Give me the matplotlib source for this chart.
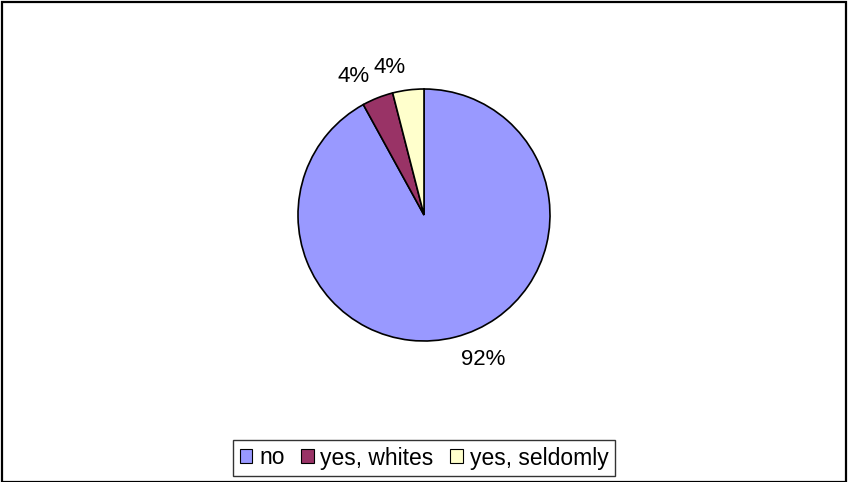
from matplotlib import pyplot as plt
from matplotlib.patches import Patch, Rectangle

# respuestas de la encuesta
categorias = ["no", "yes, whites", "yes, seldomly"]
porcentajes = [92, 4, 4]
etiquetas = ["92%", "4%", "4%"]
colores = ["#9999FF", "#993366", "#FFFFCC"]

plt.rcParams["font.family"] = ["Liberation Sans", "DejaVu Sans"]

fig = plt.figure(figsize=(8.48, 4.82), dpi=100)

# marco alrededor del grafico
fig.patches.append(Rectangle((2 / 848, 0.0), 844 / 848, 480 / 482, transform=fig.transFigure,
                             fill=False, edgecolor="black", linewidth=1.6))

# ejes cuadrados con el pie de radio 1 (centro en 424, 215 px)
ax = fig.add_axes([298 / 848, 141 / 482, 252 / 848, 252 / 482])
wedges, textos = ax.pie(porcentajes, colors=colores, startangle=90, counterclock=False,
                        labels=etiquetas, labeldistance=1.18, radius=1,
                        wedgeprops=dict(edgecolor="black", linewidth=1.2),
                        textprops=dict(fontsize=16))
ax.set_xlim(-1, 1)
ax.set_ylim(-1, 1)
ax.set_aspect("equal")
ax.axis("off")

handles = [Patch(facecolor=c, edgecolor="black", linewidth=0.8) for c in colores]
leg = fig.legend(handles, categorias, loc="center", bbox_to_anchor=(0.5, 1 - 458 / 482),
                 ncol=3, fontsize=16.5, frameon=True, fancybox=False, handlelength=0.55,
                 handleheight=0.55, handletextpad=0.3, columnspacing=0.72, borderpad=0.3,
                 borderaxespad=0)
leg.get_frame().set_edgecolor("black")
leg.get_frame().set_linewidth(1.0)

fig.savefig("out.png", dpi=100)
